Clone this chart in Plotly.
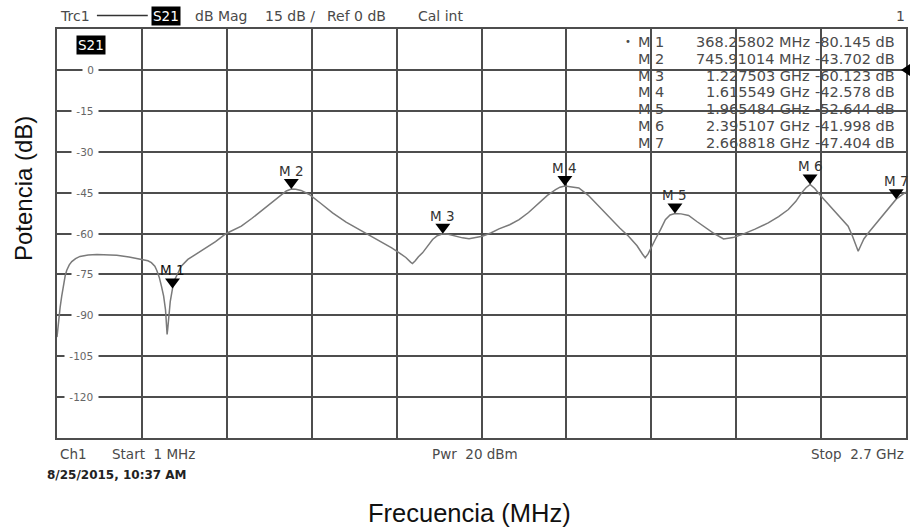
import plotly.graph_objects as go

# ---------------- data ----------------
freq_mhz = [1, 4, 7, 11, 16, 21, 27, 32, 40, 48, 60, 74, 100, 128, 160, 191, 230, 264, 290, 301,
            312, 318, 326, 333, 340, 346, 349, 351, 353, 356, 361, 368.26, 375, 381, 396, 417, 440,
            470, 505, 539, 587, 620, 650, 685, 714, 730, 745.91, 760, 777, 803, 840, 877, 920, 962,
            1000, 1036, 1065, 1089, 1110, 1125, 1131, 1140, 1150, 1163, 1180, 1195, 1210, 1227.5,
            1245, 1269, 1290, 1311, 1330, 1353, 1380, 1406, 1440, 1470, 1500, 1533, 1560, 1586,
            1600, 1615.55, 1635, 1660, 1690, 1713, 1740, 1765, 1790, 1818, 1845, 1862, 1871, 1880,
            1892, 1903, 1920, 1935, 1950, 1965.48, 1985, 2009, 2035, 2062, 2090, 2120, 2150, 2178,
            2220, 2262, 2295, 2326, 2350, 2368, 2382, 2395.11, 2410, 2431, 2458, 2484, 2500, 2516,
            2530, 2540, 2548, 2556, 2566, 2580, 2605, 2633, 2652, 2668.82, 2685, 2700]
power_db = [-98, -94, -91, -87, -83, -79, -75.5, -73.5, -71.5, -70.3, -69.2, -68.4, -67.9, -67.7,
            -67.8, -68, -68.6, -69.3, -70, -70.7, -72, -73.5, -76, -79.3, -83, -88, -93, -97, -95,
            -90, -85, -80.145, -77, -75.6, -72, -69.5, -67.8, -65.9, -63, -60, -57.3, -54.5, -51.8,
            -48.5, -45.7, -44.4, -43.702, -43.8, -44.2, -45.7, -49, -52.4, -55.8, -58.5, -61, -63.4,
            -65.3, -67.1, -68.8, -70.5, -71, -70, -68.5, -67.1, -64.5, -62.2, -60.8, -60.123, -60.3,
            -61, -61.6, -61.9, -61.6, -61, -59.8, -58.3, -56.8, -54.9, -52.3, -48.8, -46, -43.9,
            -43, -42.578, -42.8, -43.3, -46, -48.8, -52, -54.9, -58, -61, -64.5, -67.5, -68.9,
            -67.5, -64.5, -62.2, -58.5, -54.9, -53.2, -52.644, -52.8, -53.4, -55.6, -57.9, -60,
            -62, -61.5, -60.4, -58.4, -56.1, -53.8, -51.2, -48.2, -45.1, -43.2, -41.998, -43.5,
            -46.4, -49.8, -53.1, -55, -57.3, -61, -64.5, -66.5, -64.5, -62, -59.8, -56.3, -52.4,
            -49.8, -47.404, -46, -44.8]

marker_names = ["M 1", "M 2", "M 3", "M 4", "M 5", "M 6", "M 7"]
marker_freq_mhz = [368.25802, 745.91014, 1227.503, 1615.549, 1965.484, 2395.107, 2668.818]
marker_db = [-80.145, -43.702, -60.123, -42.578, -52.644, -41.998, -47.404]
marker_freq_text = ["368.25802 MHz", "745.91014 MHz", "1.227503 GHz", "1.615549 GHz",
                    "1.965484 GHz", "2.395107 GHz", "2.668818 GHz"]
marker_db_text = ["-80.145 dB", "-43.702 dB", "-60.123 dB", "-42.578 dB",
                  "-52.644 dB", "-41.998 dB", "-47.404 dB"]

ytick_vals = [0, -15, -30, -45, -60, -75, -90, -105, -120]
ytick_text = ["0", "-15", "-30", "-45", "-60", "-75", "-90", "-105", "-120"]

x_start, x_stop = 1, 2700
y_bottom, y_top = -135, 15

# ---------------- layout helpers ----------------
W, H = 911, 529
L, R, T, B = 57, 3, 29, 91
PW, PH = W - L - R, H - T - B


def px(xp):
    return (xp - L) / PW


def py(yp):
    return (H - B - yp) / PH


GRID = "#4d4d4d"
TXT = "#4a4a4a"
FONT = "DejaVu Sans"

fig = go.Figure()
fig.add_trace(go.Scatter(x=freq_mhz, y=power_db, mode="lines",
                         line=dict(color="#7a7a7a", width=1.5), hoverinfo="skip",
                         showlegend=False))

ann = []
shapes = []

# y tick labels (inside plot, white background breaks grid line)
for v, t in zip(ytick_vals, ytick_text):
    ann.append(dict(x=px(99), y=v, xref="paper", yref="y", text=" " + t + " ", showarrow=False,
                    xanchor="right", yanchor="middle", bgcolor="white", borderpad=1,
                    font=dict(family=FONT, size=10.5, color="#666")))

# marker triangles and labels
for n, f, d in zip(marker_names, marker_freq_mhz, marker_db):
    shapes.append(dict(type="path", xref="x", yref="y", xsizemode="pixel", ysizemode="pixel",
                       xanchor=f, yanchor=d, path="M -7.5 10 L 7.5 10 L 0 0 Z",
                       fillcolor="black", line=dict(width=0), layer="above"))
    ann.append(dict(x=f, y=d, xref="x", yref="y", text=n, showarrow=False, xanchor="center",
                    yanchor="middle", yshift=18,
                    font=dict(family=FONT, size=13.5, color="#333" if n != "M 1" else "#111")))

# marker table
row0, drow = 42, 16.83
TF = 14.5
for i, (n, ft, dt) in enumerate(zip(marker_names, marker_freq_text, marker_db_text)):
    yy = py(row0 + i * drow)
    ann.append(dict(x=px(637), y=yy, xref="paper", yref="paper", text=n, showarrow=False,
                    xanchor="left", yanchor="middle", font=dict(family=FONT, size=TF, color=TXT)))
    ann.append(dict(x=px(814), y=yy, xref="paper", yref="paper", text=ft, showarrow=False,
                    xanchor="right", yanchor="middle", font=dict(family=FONT, size=TF, color=TXT)))
    ann.append(dict(x=px(899), y=yy, xref="paper", yref="paper", text=dt, showarrow=False,
                    xanchor="right", yanchor="middle", font=dict(family=FONT, size=TF, color=TXT)))
ann.append(dict(x=px(634), y=py(row0), xref="paper", yref="paper", text="•", showarrow=False,
                xanchor="right", yanchor="middle", font=dict(family=FONT, size=10, color=TXT)))

# reference level arrow at right edge (Ref 0 dB)
shapes.append(dict(type="path", xref="paper", yref="y", xsizemode="pixel", ysizemode="pixel",
                   xanchor=1, yanchor=0, path="M -5 0 L 4 6 L 4 -6 Z",
                   fillcolor="black", line=dict(width=0), layer="above"))

# header line
hy = py(15.5)
ann += [
    dict(x=px(58), y=hy, text="Trc1", xanchor="left"),
    dict(x=px(193), y=hy, text="dB Mag", xanchor="left"),
    dict(x=px(263), y=hy, text="15 dB /", xanchor="left"),
    dict(x=px(326), y=hy, text="Ref 0 dB", xanchor="left"),
    dict(x=px(417), y=hy, text="Cal int", xanchor="left"),
    dict(x=px(909), y=hy, text="1", xanchor="right"),
]
for a in ann[-6:]:
    a.update(xref="paper", yref="paper", showarrow=False, yanchor="middle",
             font=dict(family=FONT, size=14, color=TXT))
shapes.append(dict(type="line", xref="paper", yref="paper", x0=px(97), x1=px(148), y0=hy, y1=hy,
                   line=dict(color="#333", width=1.3)))
ann.append(dict(x=px(151), y=hy, xref="paper", yref="paper", text="S21", showarrow=False,
                xanchor="left", yanchor="middle", bgcolor="black", borderpad=1,
                font=dict(family=FONT, size=13.5, color="white")))
ann.append(dict(x=px(76), y=py(45), xref="paper", yref="paper", text="S21", showarrow=False,
                xanchor="left", yanchor="middle", bgcolor="black", borderpad=1,
                font=dict(family=FONT, size=13.5, color="white")))

# footer
fy = py(454)
for xp, t, anc in [(58, "Ch1", "left"), (110, "Start  1 MHz", "left"),
                   (431, "Pwr  20 dBm", "left"), (908, "Stop  2.7 GHz", "right")]:
    ann.append(dict(x=px(xp), y=fy, xref="paper", yref="paper", text=t, showarrow=False,
                    xanchor=anc, yanchor="middle", font=dict(family=FONT, size=13.5, color=TXT)))
ann.append(dict(x=px(45), y=py(475), xref="paper", yref="paper", text="<b>8/25/2015, 10:37 AM</b>",
                showarrow=False, xanchor="left", yanchor="middle",
                font=dict(family=FONT, size=12, color="#222")))

# axis titles
ann.append(dict(x=px(470), y=py(513), xref="paper", yref="paper", text="Frecuencia (MHz)",
                showarrow=False, xanchor="center", yanchor="middle",
                font=dict(family="Liberation Sans", size=25.5, color="#111")))
ann.append(dict(x=px(23), y=py(189), xref="paper", yref="paper", text="Potencia (dB)",
                showarrow=False, xanchor="center", yanchor="middle", textangle=-90,
                font=dict(family="Liberation Sans", size=24, color="#111")))

fig.update_layout(
    width=W, height=H,
    margin=dict(l=L, r=R, t=T, b=B, pad=0),
    paper_bgcolor="white", plot_bgcolor="white",
    showlegend=False,
    xaxis=dict(range=[x_start, x_stop], tickmode="linear", tick0=x_start,
               dtick=(x_stop - x_start) / 10, showticklabels=False, ticks="",
               showgrid=True, gridcolor=GRID, gridwidth=1.7, zeroline=False,
               showline=True, mirror=True, linecolor=GRID, linewidth=2, fixedrange=True),
    yaxis=dict(range=[y_bottom, y_top], tickmode="linear", tick0=0, dtick=15,
               showticklabels=False, ticks="", showgrid=True, gridcolor=GRID, gridwidth=1.7,
               zeroline=False, showline=True, mirror=True, linecolor=GRID, linewidth=2,
               fixedrange=True),
    annotations=ann,
    shapes=shapes,
)

fig.write_html("out.html", config={"displayModeBar": False},
               post_script="document.body.style.margin='0';document.body.style.padding='0';"
                           "document.body.style.overflow='hidden';")
